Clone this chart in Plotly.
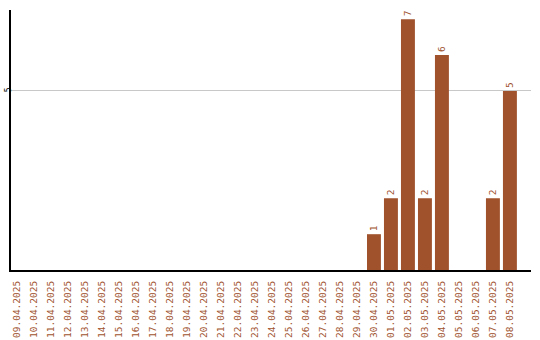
import plotly.graph_objects as go

dates = ["09.04.2025","10.04.2025","11.04.2025","12.04.2025","13.04.2025","14.04.2025",
         "15.04.2025","16.04.2025","17.04.2025","18.04.2025","19.04.2025","20.04.2025",
         "21.04.2025","22.04.2025","23.04.2025","24.04.2025","25.04.2025","26.04.2025",
         "27.04.2025","28.04.2025","29.04.2025","30.04.2025","01.05.2025","02.05.2025",
         "03.05.2025","04.05.2025","05.05.2025","06.05.2025","07.05.2025","08.05.2025"]
values = [0]*21 + [1, 2, 7, 2, 6, 0, 0, 2, 5]
labels = [str(v) if v > 0 else "" for v in values]

color = "#A0522D"
xs = list(range(len(dates)))

fig = go.Figure(go.Bar(
    x=xs, y=values, text=labels, textposition="outside", textangle=-90,
    textfont=dict(color=color, size=9.5, family="DejaVu Sans Mono"),
    marker=dict(color=color, line=dict(width=0)), width=0.82, cliponaxis=False,
))
fig.update_layout(
    width=540, height=340, margin=dict(l=11, r=9, t=10, b=70),
    paper_bgcolor="white", plot_bgcolor="white", showlegend=False,
    xaxis=dict(tickmode="array", tickvals=xs, ticktext=dates, tickangle=-90,
               range=[-0.353, 30.24], showgrid=False, showline=True, linecolor="black",
               linewidth=2, ticks="outside", ticklen=5, tickcolor="rgba(0,0,0,0)",
               zeroline=False, automargin=False,
               tickfont=dict(color=color, size=9.5, family="DejaVu Sans Mono")),
    yaxis=dict(range=[0, 7.26], tickvals=[5], ticktext=["5"], tickangle=-90,
               showgrid=True, gridcolor="#c8c8c8", gridwidth=1, showline=True,
               linecolor="black", linewidth=2, zeroline=False, ticks="",
               automargin=False, ticklabelstandoff=-5,
               tickfont=dict(color="black", size=8, family="DejaVu Sans Mono")),
)
fig.write_html("out.html")
